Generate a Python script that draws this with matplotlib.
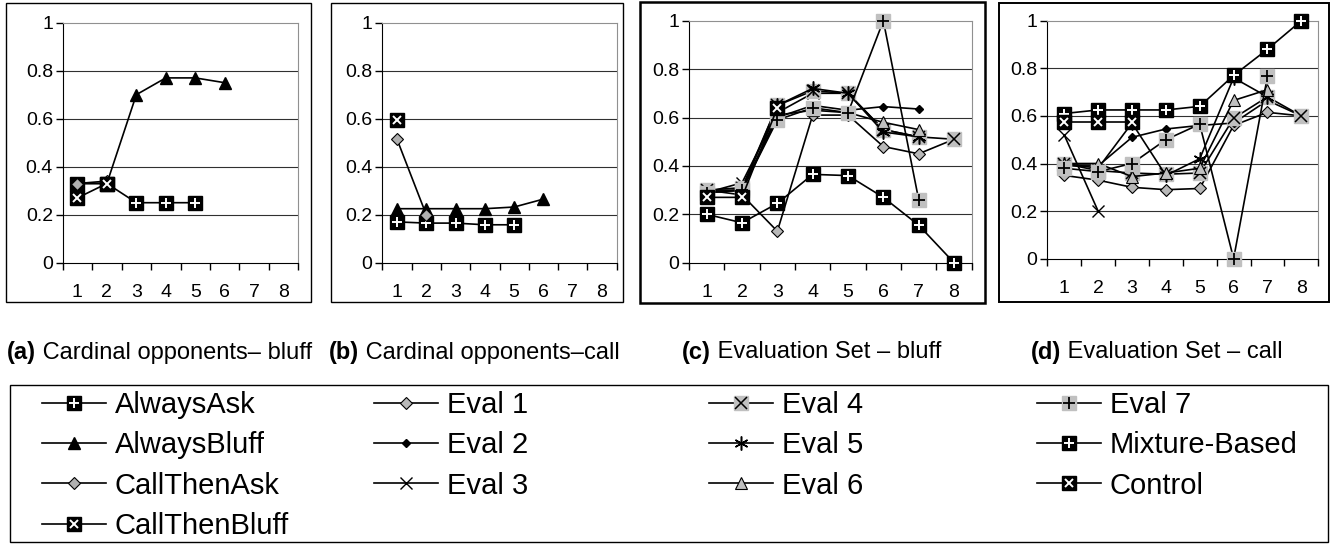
import numpy as np
import matplotlib
matplotlib.use('Agg')
import matplotlib.pyplot as plt
from matplotlib.patches import Rectangle

plt.rcParams['font.family'] = ['Liberation Sans', 'DejaVu Sans']

W, H = 1331, 544
nan = np.nan
rounds = np.arange(1, 9)
ytick_labels = ['0', '0.2', '0.4', '0.6', '0.8', '1']

# (a) cardinal opponents - bluff
always_ask_a = [0.33, 0.33, 0.25, 0.25, 0.25, nan, nan, nan]
always_bluff_a = [0.33, 0.33, 0.70, 0.77, 0.77, 0.75, nan, nan]
call_ask_a = [0.33, 0.34, nan, nan, nan, nan, nan, nan]
call_bluff_a = [0.27, 0.33, nan, nan, nan, nan, nan, nan]

# (b) cardinal opponents - call
always_ask_b = [0.17, 0.165, 0.165, 0.158, 0.158, nan, nan, nan]
always_bluff_b = [0.225, 0.225, 0.225, 0.225, 0.232, 0.265, nan, nan]
call_ask_b = [0.515, 0.20, nan, nan, nan, nan, nan, nan]
call_bluff_b = [0.595, nan, nan, nan, nan, nan, nan, nan]

# (c) evaluation set - bluff
eval1_c = [0.30, 0.28, 0.13, 0.61, 0.61, 0.48, 0.45, 0.51]
eval2_c = [0.30, 0.30, 0.60, 0.65, 0.63, 0.645, 0.635, nan]
eval3_c = [0.29, 0.33, 0.62, 0.70, 0.70, 0.55, 0.52, nan]
eval4_c = [0.30, 0.31, 0.65, 0.71, 0.70, 0.55, 0.52, 0.51]
eval5_c = [0.29, 0.30, 0.65, 0.72, 0.70, 0.54, 0.52, nan]
eval6_c = [0.29, 0.30, 0.61, 0.63, 0.62, 0.58, 0.55, nan]
eval7_c = [0.29, 0.30, 0.59, 0.64, 0.62, 1.00, 0.26, nan]
mixture_c = [0.20, 0.165, 0.245, 0.365, 0.36, 0.27, 0.155, 0.0]
control_c = [0.27, 0.27, 0.64, nan, nan, nan, nan, nan]

# (d) evaluation set - call
eval1_d = [0.35, 0.33, 0.30, 0.29, 0.295, 0.56, 0.615, 0.60]
eval2_d = [0.39, 0.39, 0.51, 0.545, 0.56, 0.57, 0.665, 0.60]
eval3_d = [0.52, 0.20, nan, nan, nan, nan, nan, nan]
eval4_d = [0.40, 0.37, 0.36, 0.355, 0.36, 0.59, 0.68, 0.60]
eval5_d = [0.40, 0.38, 0.57, 0.35, 0.42, 0.76, 0.68, nan]
eval6_d = [0.40, 0.40, 0.345, 0.36, 0.38, 0.665, 0.71, nan]
eval7_d = [0.38, 0.366, 0.40, 0.50, 0.565, 0.0, 0.767, nan]
mixture_d = [0.61, 0.625, 0.625, 0.625, 0.64, 0.77, 0.88, 1.0]
control_d = [0.575, 0.575, 0.575, nan, nan, nan, nan, nan]

GRAY = '#c0c0c0'
SQ = 9.5
# marker style: (base marker kwargs, overlay marker kwargs or None)
styles = {
    'AlwaysAsk': (dict(marker='s', mfc='black', mec='black', ms=SQ), dict(marker='+', color='white', ms=6.5, mew=1.4)),
    'AlwaysBluff': (dict(marker='^', mfc='black', mec='black', ms=8.5), None),
    'CallThenAsk': (dict(marker='D', mfc='#b0b0b0', mec='black', ms=6, mew=0.8), None),
    'CallThenBluff': (dict(marker='s', mfc='black', mec='black', ms=SQ), dict(marker='x', color='white', ms=6, mew=1.4)),
    'Eval 1': (dict(marker='D', mfc='#b8b8b8', mec='black', ms=6, mew=0.8), None),
    'Eval 2': (dict(marker='D', mfc='black', mec='black', ms=3.8), None),
    'Eval 3': (dict(marker='x', mfc='black', mec='black', ms=8, mew=1), None),
    'Eval 4': (dict(marker='s', mfc=GRAY, mec=GRAY, ms=SQ + 0.5), dict(marker='x', color='black', ms=8, mew=1.1)),
    'Eval 5': (dict(marker=(6, 2, 0), mfc='black', mec='black', ms=10, mew=1.1), None),
    'Eval 6': (dict(marker='^', mfc=GRAY, mec='black', ms=9, mew=0.8), None),
    'Eval 7': (dict(marker='s', mfc=GRAY, mec=GRAY, ms=SQ + 0.5), dict(marker='+', color='black', ms=9, mew=1.3)),
    'Mixture-Based': (dict(marker='s', mfc='black', mec='black', ms=SQ), dict(marker='+', color='white', ms=6.5, mew=1.4)),
    'Control': (dict(marker='s', mfc='black', mec='black', ms=SQ), dict(marker='x', color='white', ms=6, mew=1.4)),
}

handles = {}


def draw(ax, name, y, z):
    base, over = styles[name]
    ln, = ax.plot(rounds, y, color='black', lw=1.2, zorder=z, clip_on=False, **base)
    h = ln
    if over is not None:
        ov, = ax.plot(rounds, y, ls='none', zorder=z + 0.5, clip_on=False, **over)
        h = (ln, ov)
    handles[name] = h


def setup(ax):
    ax.set_xlim(0.5, 8.5)
    ax.set_ylim(0, 1)
    for g in [0.2, 0.4, 0.6, 0.8]:
        ax.axhline(g, color='#303030', lw=0.8, zorder=0)
    ax.set_yticks(np.arange(0, 1.01, 0.2))
    ax.set_yticklabels(ytick_labels)
    ax.set_xticks(np.arange(0.5, 9, 1))
    ax.set_xticklabels([])
    ax.set_xticks(rounds, minor=True)
    ax.set_xticklabels([str(r) for r in rounds], minor=True)
    ax.tick_params(axis='x', which='major', direction='out', length=5, width=1)
    ax.tick_params(axis='x', which='minor', length=0, pad=15, labelsize=14)
    ax.tick_params(axis='y', direction='out', length=5, width=1, pad=2, labelsize=14)
    for s in ['top', 'right']:
        ax.spines[s].set_color('#909090')
    for s in ['left', 'bottom']:
        ax.spines[s].set_color('black')


fig = plt.figure(figsize=(W / 100, H / 100), dpi=100)


def add_axes(x0, x1, y0, y1):
    return fig.add_axes([x0 / W, 1 - y1 / H, (x1 - x0) / W, (y1 - y0) / H])


def frame(x0, x1, y0, y1, lw):
    fig.patches.append(Rectangle((x0 / W, 1 - y1 / H), (x1 - x0) / W, (y1 - y0) / H,
                                 transform=fig.transFigure, fill=False, ec='black', lw=lw))


ax_a = add_axes(62.7, 298.3, 22.7, 262.7)
ax_b = add_axes(382.3, 616.7, 22.7, 262.7)
ax_c = add_axes(689, 971.7, 20.7, 262.7)
ax_d = add_axes(1047.3, 1318.3, 20.7, 258.7)
for ax in [ax_a, ax_b, ax_c, ax_d]:
    setup(ax)

draw(ax_a, 'AlwaysBluff', always_bluff_a, 2)
draw(ax_a, 'AlwaysAsk', always_ask_a, 3)
draw(ax_a, 'CallThenAsk', call_ask_a, 4)
draw(ax_a, 'CallThenBluff', call_bluff_a, 5)

draw(ax_b, 'AlwaysAsk', always_ask_b, 2)
draw(ax_b, 'AlwaysBluff', always_bluff_b, 3)
draw(ax_b, 'CallThenAsk', call_ask_b, 4)
draw(ax_b, 'CallThenBluff', call_bluff_b, 5)

names_eval = ['Eval 1', 'Eval 2', 'Eval 3', 'Eval 4', 'Eval 5', 'Eval 6', 'Eval 7', 'Mixture-Based', 'Control']
for ax, data in [(ax_c, [eval1_c, eval2_c, eval3_c, eval4_c, eval5_c, eval6_c, eval7_c, mixture_c, control_c]),
                 (ax_d, [eval1_d, eval2_d, eval3_d, eval4_d, eval5_d, eval6_d, eval7_d, mixture_d, control_d])]:
    for i, (n, y) in enumerate(zip(names_eval, data)):
        draw(ax, n, y, 2 + i)

frame(6, 311, 3, 302, 1.0)
frame(331, 623, 3, 302, 1.0)
frame(640, 985, 2, 303, 1.8)
frame(999, 1329, 3, 302, 1.4)

# captions
captions = [(7, '(a)', ' Cardinal opponents\u2013 bluff'),
            (329, '(b)', ' Cardinal opponents\u2013call'),
            (682, '(c)', ' Evaluation Set \u2013 bluff'),
            (1031, '(d)', ' Evaluation Set \u2013 call')]
for x, lab, txt in captions:
    t = fig.text(x / W, 1 - 352 / H, lab, fontsize=17, fontweight='bold', va='center')
    fig.add_artist(plt.Annotation(txt, xy=(1, 0), xycoords=t, va='bottom', ha='left', fontsize=17))

# legend
frame(10, 1328, 385, 542, 1.0)
columns = [(42, ['AlwaysAsk', 'AlwaysBluff', 'CallThenAsk', 'CallThenBluff']),
           (374, ['Eval 1', 'Eval 2', 'Eval 3']),
           (709, ['Eval 4', 'Eval 5', 'Eval 6']),
           (1037, ['Eval 7', 'Mixture-Based', 'Control'])]
for x, names in columns:
    fig.legend([handles[n] for n in names], names, loc='upper left',
               bbox_to_anchor=(x / W, 1 - 391 / H), frameon=False, fontsize=21,
               borderpad=0, borderaxespad=0, handlelength=2.2, handletextpad=0.3,
               labelspacing=0.42, numpoints=1)

fig.savefig('out.png', dpi=100)
